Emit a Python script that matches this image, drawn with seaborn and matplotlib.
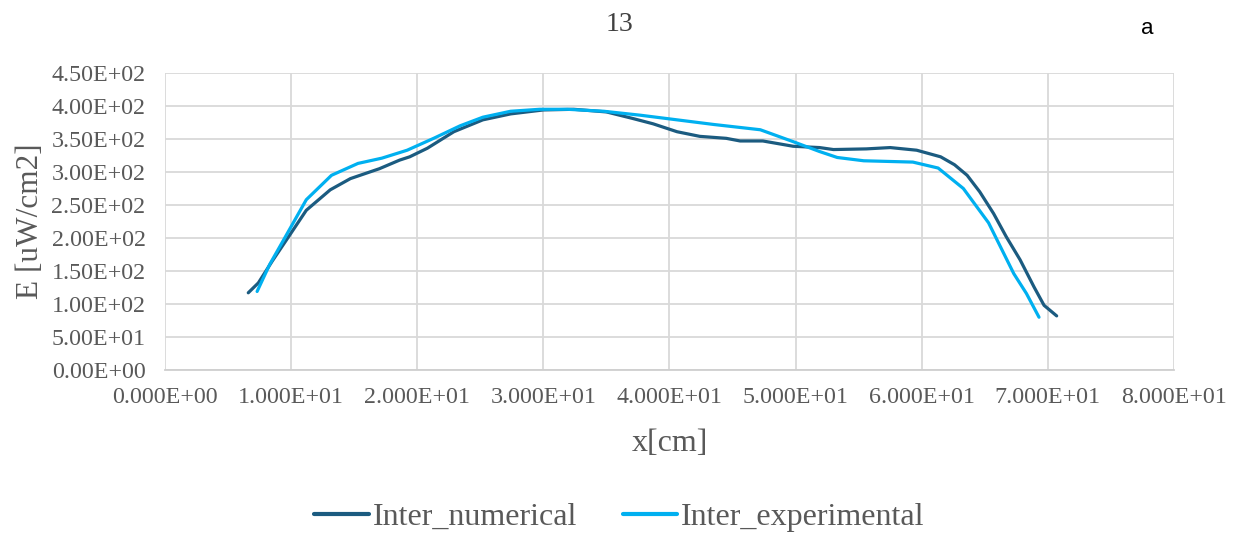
import numpy as np
import pandas as pd
import matplotlib
matplotlib.use("Agg")
import matplotlib.pyplot as plt
import seaborn as sns
from matplotlib.ticker import FuncFormatter, MultipleLocator

# Irradiance profiles along x
x_num = [6.6, 7.4, 8.5, 9.8, 11.2, 13.1, 14.7, 17.0, 18.6, 19.4, 20.8, 22.9, 25.2,
         27.4, 30.0, 32.4, 35.0, 37.1, 38.7, 40.6, 42.4, 44.5, 45.6, 47.4, 49.8,
         51.9, 53.0, 55.6, 57.5, 59.6, 61.5, 62.6, 63.6, 64.6, 65.7, 66.7, 67.8,
         68.9, 69.7, 70.7]
e_num = [117, 132, 165, 202, 242, 273, 290, 305, 318, 323, 336, 361, 379,
         388, 394, 395, 391, 381, 373, 361, 354, 351, 347, 347, 339,
         337, 334, 335, 337, 333, 323, 311, 295, 270, 237, 202, 167,
         126, 98, 82]

x_exp = [7.3, 8.3, 9.4, 11.2, 13.2, 15.3, 17.2, 19.2, 21.3, 23.4, 25.2, 27.4,
         29.7, 31.9, 34.8, 37.7, 40.6, 43.5, 47.2, 49.8, 51.9, 53.3, 55.4,
         59.3, 61.3, 63.3, 65.3, 67.3, 68.3, 69.3]
e_exp = [119, 160, 197, 258, 295, 313, 321, 333, 351, 370, 383, 392,
         395, 395, 392, 386, 379, 372, 364, 346, 331, 322, 317,
         315, 306, 275, 223, 146, 116, 80]

labels = ["Inter_numerical", "Inter_experimental"]
colors = ["#1b5b80", "#00b0f0"]

df = pd.concat([
    pd.DataFrame({"x": x_num, "E": e_num, "series": labels[0]}),
    pd.DataFrame({"x": x_exp, "E": e_exp, "series": labels[1]}),
], ignore_index=True)

sns.set_theme(style="white")
plt.rcParams["font.family"] = ["Liberation Serif", "DejaVu Serif"]

fig = plt.figure(figsize=(12.39, 5.39), dpi=100)
ax = fig.add_axes([0.1332, 0.3135, 0.8143, 0.5511])

sns.lineplot(data=df, x="x", y="E", hue="series", palette=dict(zip(labels, colors)),
             sort=False, estimator=None, linewidth=2.3, ax=ax, legend=False)

ax.set_xlim(0, 80)
ax.set_ylim(0, 450)
ax.xaxis.set_major_locator(MultipleLocator(10))
ax.yaxis.set_major_locator(MultipleLocator(50))
ax.xaxis.set_major_formatter(FuncFormatter(lambda v, p: f"{v:.3E}"))
ax.yaxis.set_major_formatter(FuncFormatter(lambda v, p: f"{v:.2E}"))

ax.grid(True, color="#d9d9d9", linewidth=1.3)
ax.set_axisbelow(True)
for s in ["top", "right", "left"]:
    ax.spines[s].set_visible(False)
ax.spines["bottom"].set_color("#cfcfcf")
ax.spines["bottom"].set_linewidth(1.3)

ax.tick_params(axis="both", length=0, labelsize=17.3, labelcolor="#595959")
ax.tick_params(axis="x", pad=12)
ax.tick_params(axis="y", pad=14)

ax.set_xlabel("x[cm]", fontsize=23, color="#595959", labelpad=15)
ax.set_ylabel("E [uW/cm2]", fontsize=22.5, color="#595959", labelpad=5)

fig.text(0.5, 0.955, "13", ha="center", va="center", fontsize=20, color="#404040")
fig.text(0.926, 0.948, "a", ha="center", va="center", fontsize=16, color="black",
         family=["Liberation Sans", "DejaVu Sans"])

handles = [plt.Line2D([], [], color=c, linewidth=3) for c in colors]
fig.legend(handles, labels, loc="center", bbox_to_anchor=(0.5, 0.04), ncol=2,
           frameon=False, fontsize=23, handlelength=1.7, handletextpad=0.12,
           columnspacing=1.45, labelcolor="#595959")

fig.savefig("out.png", dpi=100)
